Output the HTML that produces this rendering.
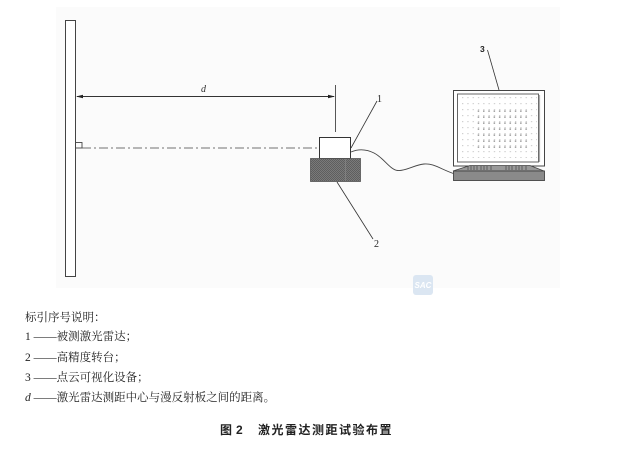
<!DOCTYPE html>
<html><head><meta charset="utf-8">
<style>
html,body{margin:0;padding:0;background:#fff;}
body{width:621px;height:454px;position:relative;overflow:hidden;font-family:"Liberation Serif","Noto Serif CJK SC",serif;color:#222;}
.t{position:absolute;font-size:11.5px;line-height:12px;white-space:nowrap;font-family:"Liberation Serif","Noto Serif CJK SC",serif;}
.title{position:absolute;top:423px;font-family:"Liberation Sans","Noto Sans CJK SC",sans-serif;font-weight:bold;font-size:12px;line-height:14px;white-space:nowrap;color:#222;}
</style></head><body>
<svg width="621" height="454" style="position:absolute;left:0;top:0">
<defs>
<pattern id="chk" width="2" height="2" patternUnits="userSpaceOnUse">
<rect width="2" height="2" fill="#7a7a7a"/><rect width="1" height="1" fill="#5e5e5e"/><rect x="1" y="1" width="1" height="1" fill="#5e5e5e"/>
</pattern>
<pattern id="dotsL" x="462" y="97" width="5.3" height="6" patternUnits="userSpaceOnUse">
<rect width="1.3" height="1.2" fill="#cfcfcf"/>
</pattern>
<pattern id="dotsD" x="477.7" y="110.5" width="5.3" height="6" patternUnits="userSpaceOnUse">
<rect width="1.5" height="1.3" fill="#8f8f8f"/>
</pattern>
</defs>
<rect x="56" y="7" width="504" height="281" fill="#fbfbfb"/>
<!-- watermark -->
<rect x="413" y="275" width="20" height="20" rx="3" fill="#dbe6f2"/>
<text x="423" y="288" font-family="Liberation Sans,sans-serif" font-size="8" font-style="italic" font-weight="bold" fill="#fff" text-anchor="middle">SAC</text>
<!-- wall -->
<rect x="65.5" y="20.5" width="10" height="256" fill="#fff" stroke="#444" stroke-width="1"/>
<rect x="75.5" y="142.5" width="6.5" height="5.5" fill="none" stroke="#444" stroke-width="0.9"/>
<!-- dash dot line -->
<line x1="82" y1="148" x2="319" y2="148" stroke="#444" stroke-width="0.8" stroke-dasharray="9 3 2 3"/>
<!-- dimension -->
<line x1="77" y1="96.5" x2="334" y2="96.5" stroke="#333" stroke-width="0.9"/>
<polygon points="76,96.5 83,94.7 83,98.3" fill="#222"/>
<polygon points="335,96.5 328,94.7 328,98.3" fill="#222"/>
<line x1="335.5" y1="85" x2="335.5" y2="132" stroke="#444" stroke-width="0.9"/>
<text x="201" y="92" font-family="Liberation Serif,serif" font-style="italic" font-size="10" fill="#333">d</text>
<!-- laser -->
<rect x="319.5" y="137.5" width="31" height="21" fill="#fff" stroke="#333" stroke-width="1"/>
<rect x="310.5" y="158.5" width="50" height="23" fill="url(#chk)" stroke="#555" stroke-width="0.8"/>
<line x1="345.5" y1="159" x2="345.5" y2="181" stroke="#8a8a8a" stroke-width="0.6"/>
<!-- leaders -->
<line x1="351" y1="148" x2="377" y2="101" stroke="#333" stroke-width="0.8"/>
<text x="377" y="102" font-family="Liberation Serif,serif" font-size="10" fill="#222">1</text>
<line x1="337" y1="182" x2="373" y2="239" stroke="#333" stroke-width="0.8"/>
<text x="374" y="247" font-family="Liberation Serif,serif" font-size="10" fill="#222">2</text>
<line x1="499" y1="90" x2="487.5" y2="50" stroke="#333" stroke-width="0.8"/>
<text x="480" y="52" font-family="Liberation Sans,sans-serif" font-weight="bold" font-size="8.5" fill="#222">3</text>
<!-- cable -->
<path d="M351,152 C358,149 366,149 374,153 C384,158 390,170 398,170.5 C406,171 414,165 424,164 C434,163 442,170 455,174" fill="none" stroke="#444" stroke-width="0.9"/>
<!-- monitor -->
<rect x="453.5" y="90.5" width="91" height="75.5" fill="#fff" stroke="#444" stroke-width="1"/>
<rect x="457.5" y="94" width="81" height="68" fill="#fff" stroke="#555" stroke-width="0.9"/>
<line x1="539.5" y1="95" x2="539.5" y2="162" stroke="#aaa" stroke-width="1.2"/>
<rect x="461" y="96" width="76" height="62" fill="url(#dotsL)"/>
<rect x="477" y="109" width="52" height="43" fill="url(#dotsD)"/>
<polygon points="470,165.5 530,165.5 544,171 453,171" fill="#999" stroke="#444" stroke-width="0.8"/>
<g stroke="#444" stroke-width="0.7">
<line x1="468" y1="166" x2="468" y2="170"/><line x1="471" y1="166" x2="471" y2="170"/><line x1="474" y1="166" x2="474" y2="170"/><line x1="477" y1="166" x2="477" y2="170"/><line x1="481" y1="166" x2="481" y2="170"/><line x1="484" y1="166" x2="484" y2="170"/><line x1="487" y1="166" x2="487" y2="170"/><line x1="491" y1="166" x2="491" y2="170"/>
<line x1="506" y1="166" x2="506" y2="170"/><line x1="509" y1="166" x2="509" y2="170"/><line x1="512" y1="166" x2="512" y2="170"/><line x1="516" y1="166" x2="516" y2="170"/><line x1="519" y1="166" x2="519" y2="170"/><line x1="522" y1="166" x2="522" y2="170"/><line x1="526" y1="166" x2="526" y2="170"/>
</g>
<rect x="453.5" y="171" width="91" height="9.5" fill="#8a8a8a" stroke="#444" stroke-width="0.9"/>
</svg>
<div class="t" style="left:25px;top:312px;">标引序号说明：</div>
<div class="t" style="left:25px;top:331px;">1 ——被测激光雷达；</div>
<div class="t" style="left:25px;top:352px;">2 ——高精度转台；</div>
<div class="t" style="left:25px;top:372px;">3 ——点云可视化设备；</div>
<div class="t" style="left:25px;top:392px;"><i>d</i> ——激光雷达测距中心与漫反射板之间的距离。</div>
<div class="title" style="left:220px;">图</div>
<div class="title" style="left:236px;">2</div>
<div class="title" style="left:258px;letter-spacing:1.5px;">激光雷达测距试验布置</div>
</body></html>
